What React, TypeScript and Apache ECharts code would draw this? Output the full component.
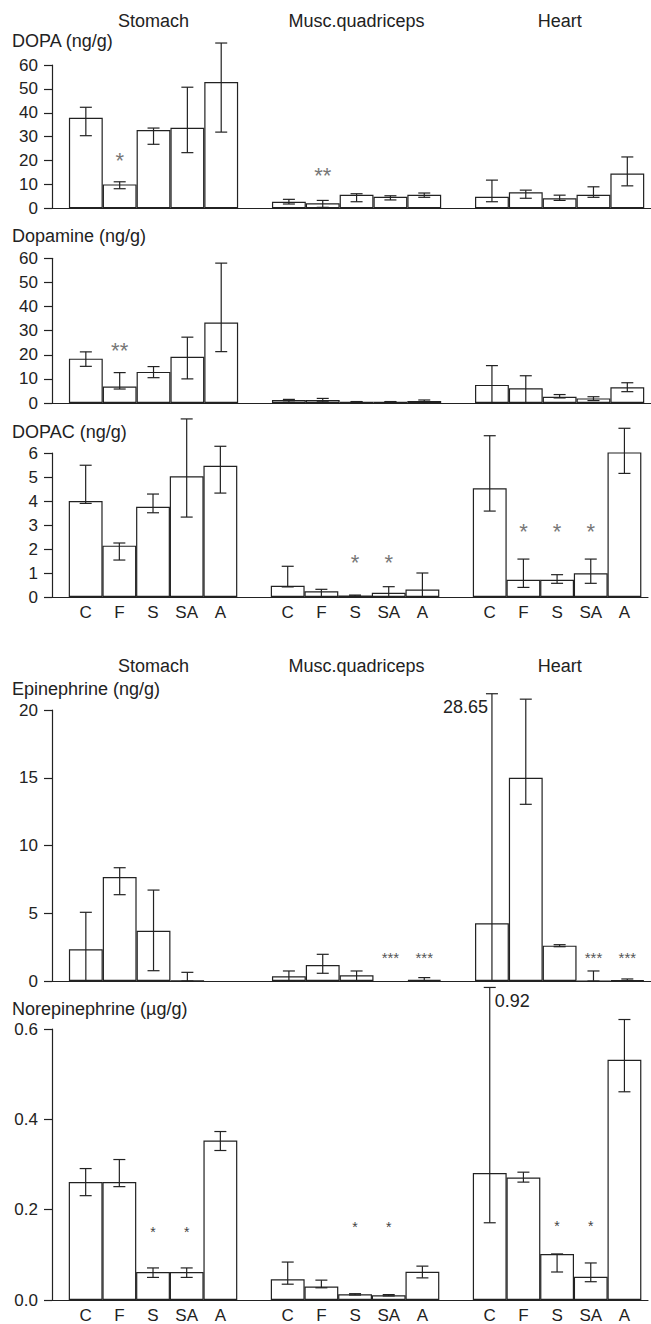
import React, { useEffect, useRef } from "react";
import * as echarts from "echarts";

// ---------- data ----------
const treatments = ["C", "F", "S", "SA", "A"];
const tissues = ["Stomach", "Musc.quadriceps", "Heart"];

// order: Stomach C F S SA A, Musc C F S SA A, Heart C F S SA A
const dopaMean = [37.9, 10.0, 32.8, 33.7, 52.9, 2.75, 2.1, 5.7, 4.8, 5.7, 4.8, 6.7, 4.2, 5.7, 14.6];
const dopaHigh = [42.3, 11.1, 33.6, 50.7, 69.2, 3.75, 3.3, 6.1, 5.25, 6.4, 11.8, 7.6, 5.5, 9.0, 21.5];
const dopaLow = [30.4, 8.2, 26.8, 23.3, 31.9, 1.8, 0.4, 2.75, 3.5, 4.6, 2.75, 4.2, 3.3, 4.6, 9.4];

const dopamineMean = [18.4, 6.8, 12.9, 19.2, 33.4, 1.25, 1.25, 0.5, 0.5, 0.8, 7.5, 6.1, 2.6, 1.9, 6.5];
const dopamineHigh = [21.2, 12.6, 15.1, 27.3, 58.0, 1.5, 1.9, 0.6, 0.6, 1.25, 15.5, 11.3, 3.5, 2.6, 8.4];
const dopamineLow = [15.2, 5.8, 10.5, 10.0, 21.3, 0.3, 0.5, 0.4, 0.4, 0.15, 0.1, 0.1, 2.1, 1.0, 4.7];

const dopacMean = [4.0, 2.14, 3.76, 5.03, 5.47, 0.47, 0.24, 0.06, 0.18, 0.31, 4.53, 0.72, 0.72, 0.99, 6.07];
const dopacHigh = [5.49, 2.25, 4.29, 7.42, 6.28, 1.28, 0.32, 0.08, 0.43, 1.0, 6.72, 1.58, 0.93, 1.58, 7.03];
const dopacLow = [3.9, 1.54, 3.51, 3.33, 4.33, 0.42, 0.01, 0.04, 0.01, 0.0, 3.58, 0.4, 0.57, 0.57, 5.15];

const epiMean = [2.34, 7.67, 3.71, 0.03, null, 0.35, 1.18, 0.42, null, 0.08, 4.26, 15.0, 2.61, 0, 0.05];
const epiHigh = [5.07, 8.36, 6.71, 0.64, null, 0.74, 1.97, 0.74, null, 0.25, 21.2, 20.8, 2.68, 0.74, 0.15];
const epiLow = [0, 6.37, 0.76, 0, null, 0, 0.57, 0.03, null, 0, 0, 13.04, 2.53, 0, 0];

const neMean = [0.261, 0.261, 0.062, 0.062, 0.353, 0.046, 0.03, 0.0125, 0.0103, 0.0625, 0.281, 0.271, 0.102, 0.0514, 0.532];
const neHigh = [0.291, 0.311, 0.071, 0.071, 0.373, 0.084, 0.044, 0.014, 0.012, 0.075, 0.692, 0.283, 0.102, 0.082, 0.621];
const neLow = [0.231, 0.251, 0.05, 0.05, 0.331, 0.035, 0.027, 0.011, 0.009, 0.049, 0.171, 0.261, 0.062, 0.0405, 0.461];

// truncated error bars: index -> [true value label, side]
const epiTruncated: Record<number, [string, string]> = { 10: ["28.65", "left"] };
const neTruncated: Record<number, [string, string]> = { 10: ["0.92", "right"] };

// significance marks: [index, y value, text]
const dopaStars: [number, number, string][] = [[1, 20, "*"], [6, 13.7, "**"]];
const dopamineStars: [number, number, string][] = [[1, 21.6, "**"]];
const dopacStars: [number, number, string][] = [[7, 1.43, "*"], [8, 1.43, "*"], [11, 2.72, "*"], [12, 2.72, "*"], [13, 2.72, "*"]];
const epiStars: [number, number, string][] = [[8, 1.76, "***"], [9, 1.76, "***"], [13, 1.76, "***"], [14, 1.76, "***"]];
const neStars: [number, number, string][] = [[2, 0.15, "*"], [3, 0.15, "*"], [7, 0.161, "*"], [8, 0.161, "*"], [12, 0.163, "*"], [13, 0.163, "*"]];

// ---------- layout ----------
const FONT = "'Liberation Sans', Arial, Helvetica, sans-serif";
const INK = "#222";
const GRID_LEFT = 52;
const GRID_W = 599;
const X_MAX = 17.7;
const UNIT = GRID_W / X_MAX;

const posOf = (i: number) => 1 + Math.floor(i / 5) * 6 + (i % 5);
const labelAt: Record<number, string> = {};
for (let i = 0; i < 15; i++) labelAt[posOf(i)] = treatments[i % 5];

type Panel = {
  title: string;
  titleY: number;
  top: number;
  height: number;
  max: number;
  interval: number;
  mean: (number | null)[];
  high: (number | null)[];
  low: (number | null)[];
  stars: [number, number, string][];
  starSize: number;
  starColor: string;
  truncated: Record<number, [string, string]>;
  showX: boolean;
  fmt?: (v: number) => string;
};

const panels: Panel[] = [
  { title: "DOPA (ng/g)", titleY: 42, top: 65, height: 143.3, max: 60, interval: 10, mean: dopaMean, high: dopaHigh, low: dopaLow, stars: dopaStars, starSize: 22, starColor: "#777", truncated: {}, showX: false },
  { title: "Dopamine (ng/g)", titleY: 237, top: 258.3, height: 144.7, max: 60, interval: 10, mean: dopamineMean, high: dopamineHigh, low: dopamineLow, stars: dopamineStars, starSize: 22, starColor: "#777", truncated: {}, showX: false },
  { title: "DOPAC (ng/g)", titleY: 433, top: 453, height: 144, max: 6, interval: 1, mean: dopacMean, high: dopacHigh, low: dopacLow, stars: dopacStars, starSize: 22, starColor: "#777", truncated: {}, showX: true },
  { title: "Epinephrine (ng/g)", titleY: 689.5, top: 710, height: 271, max: 20, interval: 5, mean: epiMean, high: epiHigh, low: epiLow, stars: epiStars, starSize: 15, starColor: "#555", truncated: epiTruncated, showX: false },
  { title: "Norepinephrine (\u00b5g/g)", titleY: 1009.5, top: 1029, height: 272.7, max: 0.6, interval: 0.2, mean: neMean, high: neHigh, low: neLow, stars: neStars, starSize: 14, starColor: "#444", truncated: neTruncated, showX: true, fmt: (v) => v.toFixed(1) },
];

const tissueTitleY = [21, 666];

function buildOption() {
  const grid: any[] = [];
  const xAxis: any[] = [];
  const yAxis: any[] = [];
  const series: any[] = [];
  const graphic: any[] = [];

  panels.forEach((p, g) => {
    grid.push({ left: GRID_LEFT, top: p.top, width: GRID_W, height: p.height, containLabel: false });
    xAxis.push({
      type: "value",
      gridIndex: g,
      min: 0,
      max: X_MAX,
      interval: 1,
      axisLine: { show: true, lineStyle: { color: INK, width: 1.2 } },
      axisTick: { show: false },
      splitLine: { show: false },
      axisLabel: {
        show: p.showX,
        color: INK,
        fontFamily: FONT,
        fontSize: 17,
        margin: 7,
        showMinLabel: true,
        showMaxLabel: true,
        formatter: (v: number) => {
          const r = Math.round(v);
          return Math.abs(r - v) < 1e-6 && labelAt[r] ? labelAt[r] : "";
        },
      },
    });
    yAxis.push({
      type: "value",
      gridIndex: g,
      min: 0,
      max: p.max,
      interval: p.interval,
      axisLine: { show: true, lineStyle: { color: INK, width: 1.2 } },
      axisTick: { show: true, length: 8, lineStyle: { color: INK, width: 1.2 } },
      splitLine: { show: false },
      axisLabel: {
        color: INK,
        fontFamily: FONT,
        fontSize: 17,
        margin: 14,
        formatter: p.fmt ? p.fmt : (v: number) => String(v),
      },
    });

    const barData: any[] = [];
    const errData: any[] = [];
    const errLabels: ([string, string] | null)[] = [];
    p.mean.forEach((m, i) => {
      if (m === null) return;
      barData.push([posOf(i), m]);
      const hi = p.high[i];
      const lo = p.low[i];
      if (hi !== null && lo !== null) {
        errData.push([posOf(i), lo, hi]);
        errLabels.push(p.truncated[i] || null);
      }
    });

    series.push({
      type: "bar",
      xAxisIndex: g,
      yAxisIndex: g,
      data: barData,
      barWidth: UNIT,
      silent: true,
      itemStyle: { color: "#fff", borderColor: INK, borderWidth: 1.2 },
      z: 2,
    });

    series.push({
      type: "custom",
      xAxisIndex: g,
      yAxisIndex: g,
      data: errData,
      silent: true,
      clip: false,
      z: 3,
      renderItem: (params: any, api: any) => {
        const x = api.value(0);
        const pLo = api.coord([x, api.value(1)]);
        const pHi = api.coord([x, api.value(2)]);
        const cx = pLo[0];
        const hw = 6;
        const style = { stroke: INK, lineWidth: 1.2 };
        const children: any[] = [
          { type: "line", shape: { x1: cx, y1: pLo[1], x2: cx, y2: pHi[1] }, style },
          { type: "line", shape: { x1: cx - hw, y1: pHi[1], x2: cx + hw, y2: pHi[1] }, style },
          { type: "line", shape: { x1: cx - hw, y1: pLo[1], x2: cx + hw, y2: pLo[1] }, style },
        ];
        const lab = errLabels[params.dataIndex];
        if (lab) {
          const onLeft = lab[1] === "left";
          children.push({
            type: "text",
            x: onLeft ? cx - 4 : cx + 5,
            y: pHi[1] + 13.5,
            style: {
              text: lab[0],
              fill: INK,
              fontSize: 18,
              fontFamily: FONT,
              align: onLeft ? "right" : "left",
              verticalAlign: "middle",
            },
          });
        }
        return { type: "group", children };
      },
    });

    const starTexts = p.stars.map((s) => s[2]);
    series.push({
      type: "custom",
      xAxisIndex: g,
      yAxisIndex: g,
      data: p.stars.map((s) => [posOf(s[0]), s[1]]),
      silent: true,
      clip: false,
      z: 4,
      renderItem: (params: any, api: any) => {
        const pt = api.coord([api.value(0), api.value(1)]);
        return {
          type: "text",
          x: pt[0],
          y: pt[1],
          style: {
            text: starTexts[params.dataIndex],
            fill: p.starColor,
            fontSize: p.starSize,
            fontFamily: FONT,
            align: "center",
            verticalAlign: "middle",
          },
        };
      },
    });

    graphic.push({
      type: "text",
      left: 12,
      top: p.titleY - 10,
      style: { text: p.title, fill: INK, fontSize: 18, fontFamily: FONT },
    });
  });

  tissueTitleY.forEach((ty) => {
    tissues.forEach((t, k) => {
      graphic.push({
        type: "text",
        x: GRID_LEFT + (3 + 6 * k) * UNIT,
        y: ty,
        style: { text: t, fill: INK, fontSize: 18, fontFamily: FONT, align: "center", verticalAlign: "middle" },
      });
    });
  });

  return { animation: false, backgroundColor: "#fff", grid, xAxis, yAxis, series, graphic };
}

export default function App() {
  const ref = useRef<HTMLDivElement>(null);
  useEffect(() => {
    if (!ref.current) return;
    const chart = echarts.init(ref.current, undefined, { renderer: "svg" });
    chart.setOption(buildOption() as any);
    return () => chart.dispose();
  }, []);
  return (
    <div
      ref={ref}
      style={{ position: "absolute", left: 0, top: 0, width: 651, height: 1324, background: "#fff" }}
    />
  );
}
